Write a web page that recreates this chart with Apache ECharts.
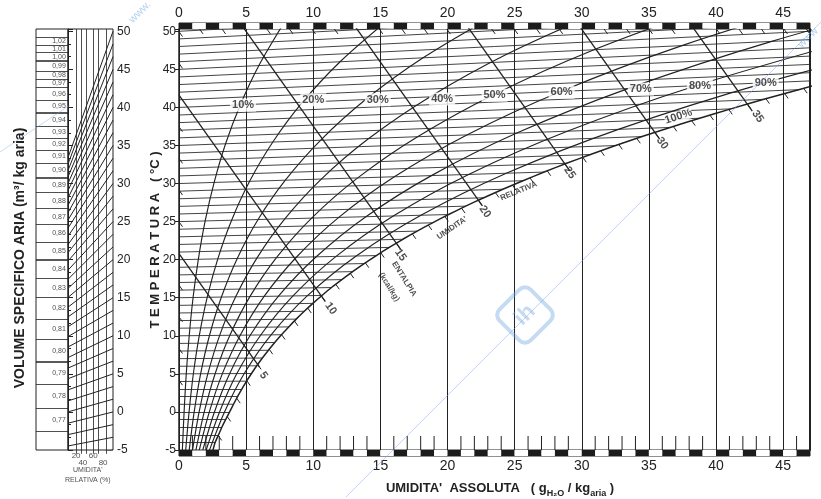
<!DOCTYPE html>
<html>
<head>
<meta charset="utf-8">
<script src="https://cdn.jsdelivr.net/npm/echarts@6/dist/echarts.min.js"></script>
<style>
  html, body { margin: 0; padding: 0; background: #fff; }
  #chart { width: 821px; height: 499px; }
</style>
</head>
<body>
<div id="chart"></div>
<script>
const FONT = "'Liberation Sans', Arial, sans-serif";
const INK = '#222';
const xMax = 47, yMin = -5, yMax = 50.3;

// saturation (100%) curve, one point per degree, absolute humidity g/kg vs temperature
const satTemps = [-5,-4,-3,-2,-1,0,1,2,3,4,5,6,7,8,9,10,11,12,13,14,15,16,17,18,19,20,21,22,23,24,25,26,27,28,29,30,31,32,33,34,35,36,37,38,39,40];
const satX = [2.53,2.69,2.94,3.19,3.47,3.77,4.06,4.36,4.69,5.03,5.40,5.79,6.21,6.66,7.13,7.63,8.17,8.73,9.33,9.97,10.65,11.36,12.13,12.93,13.79,14.70,15.66,16.67,17.74,18.88,20.08,21.35,22.70,24.12,25.62,27.20,28.87,30.65,32.52,34.49,36.58,38.78,41.11,43.56,46.15,48.89];
const satY = [-5.02,-4.02,-3.02,-2.01,-1.01,0,1.01,2.02,3.03,4.04,5.05,6.06,7.08,8.10,9.12,10.14,11.17,12.19,13.22,14.26,15.30,16.34,17.38,18.43,19.49,20.54,21.61,22.68,23.75,24.84,25.93,27.03,28.13,29.25,30.37,31.51,32.66,33.81,34.99,36.17,37.37,38.58,39.81,41.06,42.33,43.62];
// isotherms that leave the chart at the right edge
const edgeTemps = [40,41,42,43,44,45,46,47,48,49,50];
const edgeY = [43.48,44.56,45.65,46.74,47.83,48.91,50.0,51.09,52.17,53.26,54.35];

// relative humidity curves
const rh10 = [[0.25,-5.0],[0.38,0],[0.54,5.0],[0.76,10.01],[1.05,15.03],[1.44,20.05],[1.95,25.09],[2.62,30.15],[3.47,35.22],[4.57,40.34],[5.95,45.5],[7.68,50.71]];
const rh20 = [[0.5,-5.0],[0.75,0],[1.07,5.01],[1.51,10.03],[2.1,15.06],[2.89,20.11],[3.92,25.18],[5.26,30.29],[6.99,35.45],[9.2,40.68],[12.0,46.0],[15.54,51.44]];
const rh30 = [[0.76,-5.01],[1.13,0],[1.61,5.01],[2.27,10.04],[3.16,15.09],[4.34,20.16],[5.89,25.27],[7.92,30.44],[10.54,35.68],[13.9,41.03],[18.18,46.51],[23.61,52.18]];
const rh40 = [[1.01,-5.01],[1.5,0],[2.15,5.02],[3.03,10.06],[4.22,15.12],[5.8,20.21],[7.88,25.36],[10.6,30.59],[14.13,35.91],[18.68,41.38],[24.48,47.04],[31.88,52.95]];
const rh50 = [[1.26,-5.01],[1.88,0],[2.69,5.02],[3.79,10.07],[5.28,15.15],[7.26,20.27],[9.88,25.46],[13.31,30.74],[17.77,36.15],[23.52,41.74],[30.91,47.57],[40.37,53.73]];
const rh60 = [[1.51,-5.01],[2.26,0],[3.23,5.03],[4.56,10.08],[6.34,15.18],[8.74,20.32],[11.9,25.55],[16.04,30.89],[21.44,36.39],[28.44,42.1],[37.46,48.12],[49.08,54.54]];
const rh70 = [[1.77,-5.02],[2.64,0],[3.77,5.03],[5.32,10.1],[7.41,15.21],[10.22,20.38],[13.92,25.64],[18.8,31.04],[25.16,36.63],[33.43,42.47],[44.15,48.68],[58.02,55.37]];
const rh80 = [[2.02,-5.02],[3.02,0],[4.31,5.04],[6.09,10.11],[8.49,15.24],[11.7,20.43],[15.96,25.74],[21.57,31.2],[28.92,36.87],[38.51,42.85],[50.97,49.24]];
const rh90 = [[2.27,-5.02],[3.39,0],[4.86,5.04],[6.86,10.13],[9.57,15.27],[13.2,20.49],[18.02,25.83],[24.38,31.35],[32.73,37.12],[43.66,43.23],[57.94,49.82]];
const rhLabelText = ['10%','20%','30%','40%','50%','60%','70%','80%','90%'];
const rhLabelPos = [[4.77,40.3],[10.0,41.0],[14.8,41.0],[19.6,41.1],[23.5,41.6],[28.5,42.0],[34.4,42.4],[38.8,42.8],[43.7,43.2]];

// enthalpy lines (kcal/kg)
const enthalpyValues = ['5','10','15','20','25','30','35'];
const enthalpyStart = [[0,20.8],[0,41.6],[4.51,51.2],[12.89,51.2],[21.26,51.2],[29.62,51.2],[38.0,51.2]];
const enthalpyEnd = [[6.0,5.9],[10.9,14.5],[16.5,21.4],[22.6,27.06],[29.1,31.7],[35.8,35.85],[42.7,39.5]];
const enthalpyLabelPos = [[6.3,4.8],[11.3,13.6],[16.5,20.6],[22.8,26.3],[29.1,31.4],[36.0,35.3],[43.1,38.8]];
const enthalpySlope = [1, -2.486];
// enthalpy scale ticks (every kcal/kg) on the saturation curve, top edge and left edge
const satTickX = [2.92,3.59,4.30,5.05,5.86,6.72,7.64,8.60,9.59,10.61,11.68,12.76,13.88,15.03,16.19,17.38,18.57,19.80,21.05,22.30,23.57,24.84,26.14,27.43,28.75,30.08,31.42,32.76,34.10,35.45,36.82,38.19,39.55,40.95,42.34,43.72,45.11,46.53];
const satTickY = [-3.10,-0.60,1.80,4.10,6.23,8.23,10.16,11.95,13.64,15.23,16.76,18.21,19.59,20.91,22.16,23.39,24.55,25.68,26.76,27.80,28.81,29.79,30.75,31.67,32.57,33.44,34.29,35.13,35.93,36.72,37.50,38.25,38.99,39.73,40.44,41.14,41.82,42.51];
const topTickX = [1.53,3.21,6.55,8.23,9.90,11.58,14.92,16.60,18.27,19.95,23.29,24.97,26.64,28.32,31.66,33.34,35.01,36.69,40.03,41.71,43.38,45.06,46.73];
const leftTickY = [4.16,8.32,12.49,16.65,24.97,29.14,33.30,37.46,45.78,49.95];
const bottomTickX = [1,2,3,4,6,7,8,9,11,12,13,14,16,17,18,19,21,22,23,24,26,27,28,29,31,32,33,34,36,37,38,39,41,42,43,44,46];

// specific volume nomogram (left)
const volLabels = ['0,77','0,78','0,79','0,80','0,81','0,82','0,83','0,84','0,85','0,86','0,87','0,88','0,89','0,90','0,91','0,92','0,93','0,94','0,95','0,96','0,97','0,98','0,99','1,00','1,01','1,02','1,03'];
const volLineT = [-2.6,0.5,3.6,6.6,9.5,12.2,15.0,17.5,20.0,22.3,24.6,26.7,28.8,30.8,32.7,34.4,36.0,37.5,39.3,41.0,42.6,43.75,44.8,46.1,47.2,48.2,49.2];
const volThick = ['0,80','0,85','0,90','0,95','1,00'];
const nomoRightT = [-5,-3.33,-1.67,0,1.67,3.33,5,6.67,8.33,10,11.67,13.33,15,16.67,18.33,20,21.67,23.33,25,26.67,28.33,30,31.67,33.33,35,36.67,38.33,40,41.67,43.33,45,46.67,48.33,50];
const nomoLeftT = [-5.97,-4.47,-2.98,-1.48,0.01,1.45,2.90,4.36,5.76,7.14,8.53,9.90,11.19,12.48,13.76,15.04,16.23,17.42,18.62,19.81,20.91,21.99,23.08,24.15,25.21,26.18,27.14,28.10,29.07,30.02,30.87,31.72,32.56,33.41];
const rhLines = [18,29,40,56,67,84];
const rhTickLabels = ['20','40','60','80'];
const rhTickPos = [18,33,56,78];

const chart = echarts.init(document.getElementById('chart'));

function tickRender(len, dx, dy) {
  return function (params, api) {
    const x = api.value(0), y = api.value(1);
    const p = api.coord([x, y]);
    const q = api.coord([x + dx, y + dy]);
    const vx = q[0] - p[0], vy = q[1] - p[1];
    const d = Math.hypot(vx, vy) || 1;
    return {
      type: 'line',
      shape: { x1: p[0], y1: p[1], x2: p[0] + vx / d * len, y2: p[1] + vy / d * len },
      style: { stroke: INK, lineWidth: 1 }
    };
  };
}

const textLabel = (size, weight) => ({
  show: true, position: 'inside', color: INK, fontSize: size, fontWeight: weight, fontFamily: FONT
});
const hidden = { symbolSize: 1, itemStyle: { color: 'rgba(0,0,0,0)' }, silent: true };

const series = [];

// isotherms
const isoLines = satTemps.filter(t => t < 40).map((t, i) => ({ coords: [[0, t], [satX[i], satY[i]]] }))
  .concat(edgeTemps.map((t, i) => ({ coords: [[0, t], [xMax, edgeY[i]]] })));
series.push({
  type: 'lines', coordinateSystem: 'cartesian2d', xAxisIndex: 0, yAxisIndex: 0, clip: true, silent: true,
  lineStyle: { color: INK, width: 0.85, opacity: 1 }, data: isoLines
});

// relative humidity curves
[rh10, rh20, rh30, rh40, rh50, rh60, rh70, rh80, rh90].forEach(pts => {
  series.push({
    type: 'line', xAxisIndex: 0, yAxisIndex: 0, data: pts, smooth: 0.3, symbol: 'none',
    lineStyle: { color: INK, width: 1.15 }, silent: true, clip: true
  });
});
series.push({
  type: 'line', xAxisIndex: 0, yAxisIndex: 0, data: satX.map((x, i) => [x, satY[i]]), smooth: 0.2,
  symbol: 'none', lineStyle: { color: INK, width: 1.5 }, silent: true, clip: true
});

// enthalpy lines
series.push({
  type: 'lines', coordinateSystem: 'cartesian2d', xAxisIndex: 0, yAxisIndex: 0, clip: true, silent: true,
  lineStyle: { color: INK, width: 1.3, opacity: 1 },
  data: enthalpyStart.map((s, i) => ({ coords: [s, enthalpyEnd[i]] }))
});

// enthalpy scale ticks
series.push({
  type: 'custom', xAxisIndex: 0, yAxisIndex: 0, silent: true,
  renderItem: tickRender(6, enthalpySlope[0], enthalpySlope[1]),
  data: satTickX.map((x, i) => [x, satTickY[i]])
    .concat(topTickX.map(x => [x, yMax]))
    .concat(leftTickY.map(y => [0, y]))
});
series.push({
  type: 'custom', xAxisIndex: 0, yAxisIndex: 0, silent: true,
  renderItem: tickRender(14, 0, 1),
  data: bottomTickX.map(x => [x, yMin])
});

// labels on the main chart
series.push(Object.assign({
  type: 'scatter', xAxisIndex: 0, yAxisIndex: 0, z: 5,
  data: rhLabelPos.map((p, i) => ({ value: p, label: { formatter: rhLabelText[i] } })),
  label: Object.assign(textLabel(11, 'bold'), { backgroundColor: '#fff', padding: [1, 2] })
}, hidden));
series.push(Object.assign({
  type: 'scatter', xAxisIndex: 0, yAxisIndex: 0, z: 5,
  data: enthalpyLabelPos.map((p, i) => ({ value: p, label: { formatter: enthalpyValues[i] } })),
  label: Object.assign(textLabel(11, 'bold'), { rotate: -55 })
}, hidden));
series.push(Object.assign({
  type: 'scatter', xAxisIndex: 0, yAxisIndex: 0, z: 5,
  data: [
    { value: [37.2, 38.8], label: { formatter: '100%', rotate: 18, fontSize: 11, backgroundColor: '#fff' } },
    { value: [16.77, 17.46], label: { formatter: 'ENTALPIA', rotate: -58 } },
    { value: [15.65, 16.4], label: { formatter: '(kcal/kg)', rotate: -58 } },
    { value: [20.34, 24.16], label: { formatter: "UMIDITA'", rotate: 34 } },
    { value: [25.3, 29.0], label: { formatter: 'RELATIVA', rotate: 22 } }
  ],
  label: textLabel(8, 'bold')
}, hidden));

// left nomogram: isotherm slants, RH verticals
series.push({
  type: 'lines', coordinateSystem: 'cartesian2d', xAxisIndex: 3, yAxisIndex: 4, clip: true, silent: true,
  lineStyle: { color: INK, width: 1, opacity: 1 },
  data: nomoRightT.map((t, i) => ({ coords: [[0, nomoLeftT[i]], [100, t]] }))
});
series.push({
  type: 'lines', coordinateSystem: 'cartesian2d', xAxisIndex: 3, yAxisIndex: 4, clip: false, silent: true,
  lineStyle: { color: INK, width: 0.8, opacity: 1 },
  data: rhLines.map(v => ({ coords: [[v, yMin - 0.5], [v, yMax]] }))
});
series.push(Object.assign({
  type: 'scatter', xAxisIndex: 3, yAxisIndex: 4, clip: false,
  data: rhTickLabels.map((s, i) => ({
    value: [rhTickPos[i], yMin],
    label: { formatter: s, offset: [0, i % 2 === 0 ? 6 : 13] }
  })).concat([
    { value: [44, yMin], label: { formatter: "UMIDITA'", offset: [0, 20], fontSize: 7 } },
    { value: [44, yMin], label: { formatter: 'RELATIVA (%)', offset: [0, 30], fontSize: 7 } }
  ]),
  label: textLabel(8, 'normal')
}, hidden));

// volume column
series.push({
  type: 'lines', coordinateSystem: 'cartesian2d', xAxisIndex: 4, yAxisIndex: 5, silent: true,
  data: volLineT.map((t, i) => ({
    coords: [[0, t], [1, t]],
    lineStyle: { width: volThick.indexOf(volLabels[i]) >= 0 ? 1.5 : 0.8 }
  })),
  lineStyle: { color: INK, width: 0.8, opacity: 1 }
});
series.push(Object.assign({
  type: 'scatter', xAxisIndex: 4, yAxisIndex: 5,
  data: volLabels.slice(0, -1).map((s, i) => ({
    value: [0.72, (volLineT[i] + volLineT[i + 1]) / 2], label: { formatter: s }
  })),
  label: textLabel(7, 'normal')
}, hidden));

const labelFmt = v => (Math.abs(v % 5) < 1e-6 ? String(v) : '');
const bandAxis = pos => ({
  type: 'value', position: pos, min: 0, max: xMax, interval: 1,
  axisLine: { show: false }, axisTick: { show: false }, splitLine: { show: false },
  splitArea: { show: true, areaStyle: { color: ['#1c1c1c', '#ffffff'] } },
  axisLabel: { interval: 0, margin: 3, fontSize: 14, color: INK, fontFamily: FONT, formatter: labelFmt }
});

const option = {
  backgroundColor: '#fff',
  animation: false,
  grid: [
    { left: 179, right: 11, top: 29, bottom: 49 },
    { left: 179, right: 11, top: 23, height: 6, show: true, borderColor: INK, borderWidth: 1 },
    { left: 179, right: 11, top: 450, height: 6, show: true, borderColor: INK, borderWidth: 1 },
    { left: 68, width: 45, top: 29, bottom: 49, show: true, borderColor: INK, borderWidth: 1 },
    { left: 36, width: 32, top: 29, bottom: 49, show: true, borderColor: INK, borderWidth: 1 }
  ],
  xAxis: [
    {
      gridIndex: 0, type: 'value', min: 0, max: xMax, interval: 5,
      axisLine: { show: false }, axisTick: { show: false }, axisLabel: { show: false },
      splitLine: { show: true, lineStyle: { color: INK, width: 1 } }
    },
    Object.assign({ gridIndex: 1 }, bandAxis('top')),
    Object.assign({ gridIndex: 2 }, bandAxis('bottom')),
    { gridIndex: 3, type: 'value', min: 0, max: 100, show: false },
    { gridIndex: 4, type: 'value', min: 0, max: 1, show: false }
  ],
  yAxis: [
    {
      gridIndex: 0, type: 'value', min: yMin, max: yMax, interval: 5,
      axisLine: { show: true, lineStyle: { color: INK, width: 1.5 } },
      axisTick: { show: true, length: 4, lineStyle: { color: INK } },
      splitLine: { show: false },
      axisLabel: { fontSize: 12, color: INK, margin: 3, fontFamily: FONT, formatter: labelFmt }
    },
    {
      gridIndex: 0, type: 'value', position: 'right', min: yMin, max: yMax,
      axisLine: { show: true, lineStyle: { color: INK, width: 2 } },
      axisTick: { show: false }, axisLabel: { show: false }, splitLine: { show: false }
    },
    { gridIndex: 1, type: 'value', min: 0, max: 1, show: false },
    { gridIndex: 2, type: 'value', min: 0, max: 1, show: false },
    {
      gridIndex: 3, type: 'value', position: 'right', min: yMin, max: yMax, interval: 5,
      axisLine: { show: true, lineStyle: { color: INK, width: 1 } },
      axisTick: { show: true, length: 5, lineStyle: { color: INK } },
      minorTick: { show: true, splitNumber: 3, length: 3, lineStyle: { color: INK } },
      splitLine: { show: false },
      axisLabel: { fontSize: 12, color: INK, margin: 4, fontFamily: FONT, formatter: labelFmt }
    },
    { gridIndex: 4, type: 'value', min: yMin, max: yMax, show: false }
  ],
  series: series,
  graphic: [
    {
      type: 'text', x: 20, y: 258, rotation: Math.PI / 2,
      style: {
        text: 'VOLUME SPECIFICO ARIA (m³/ kg aria)', fill: INK, font: 'bold 14px ' + FONT,
        align: 'center', verticalAlign: 'middle'
      }
    },
    {
      type: 'text', x: 155, y: 240, rotation: Math.PI / 2,
      style: {
        text: 'T E M P E R A T U R A   ( °C )', fill: INK, font: 'bold 13px ' + FONT,
        align: 'center', verticalAlign: 'middle'
      }
    },
    {
      type: 'text', x: 500, y: 488,
      style: {
        text: "{a|UMIDITA'  ASSOLUTA   ( g}{s|H₂O}{a| / kg}{s|aria}{a| )}",
        align: 'center', verticalAlign: 'middle',
        rich: {
          a: { fontSize: 13, fontWeight: 'bold', fontFamily: FONT, fill: INK, lineHeight: 20, verticalAlign: 'middle' },
          s: { fontSize: 9, fontWeight: 'bold', fontFamily: FONT, fill: INK, lineHeight: 20, verticalAlign: 'bottom', padding: [8, 0, 0, 0] }
        }
      }
    },
    // watermark
    {
      type: 'line', z: 100, shape: { x1: 346, y1: 497, x2: 821, y2: 22 },
      style: { stroke: 'rgba(110,165,225,0.45)', lineWidth: 1 }
    },
    {
      type: 'line', z: 100, shape: { x1: 0, y1: 152, x2: 70, y2: 105 },
      style: { stroke: 'rgba(110,165,225,0.4)', lineWidth: 1 }
    },
    {
      type: 'rect', z: 100, x: 525, y: 315, rotation: Math.PI / 4,
      shape: { x: -22, y: -22, width: 44, height: 44, r: 8 },
      style: { fill: 'rgba(255,255,255,0)', stroke: 'rgba(110,165,225,0.4)', lineWidth: 4 }
    },
    {
      type: 'text', z: 100, x: 525, y: 315, rotation: Math.PI / 4,
      style: { text: 'ih', fill: 'rgba(110,165,225,0.4)', font: 'bold 22px ' + FONT, align: 'center', verticalAlign: 'middle' }
    },
    {
      type: 'text', z: 100, x: 140, y: 12, rotation: Math.PI / 4,
      style: { text: 'www.', fill: 'rgba(110,165,225,0.5)', font: '11px ' + FONT, align: 'center', verticalAlign: 'middle' }
    },
    {
      type: 'text', z: 100, x: 808, y: 38, rotation: Math.PI / 4,
      style: { text: 'www', fill: 'rgba(110,165,225,0.5)', font: '11px ' + FONT, align: 'center', verticalAlign: 'middle' }
    }
  ]
};

chart.setOption(option);
</script>
</body>
</html>
